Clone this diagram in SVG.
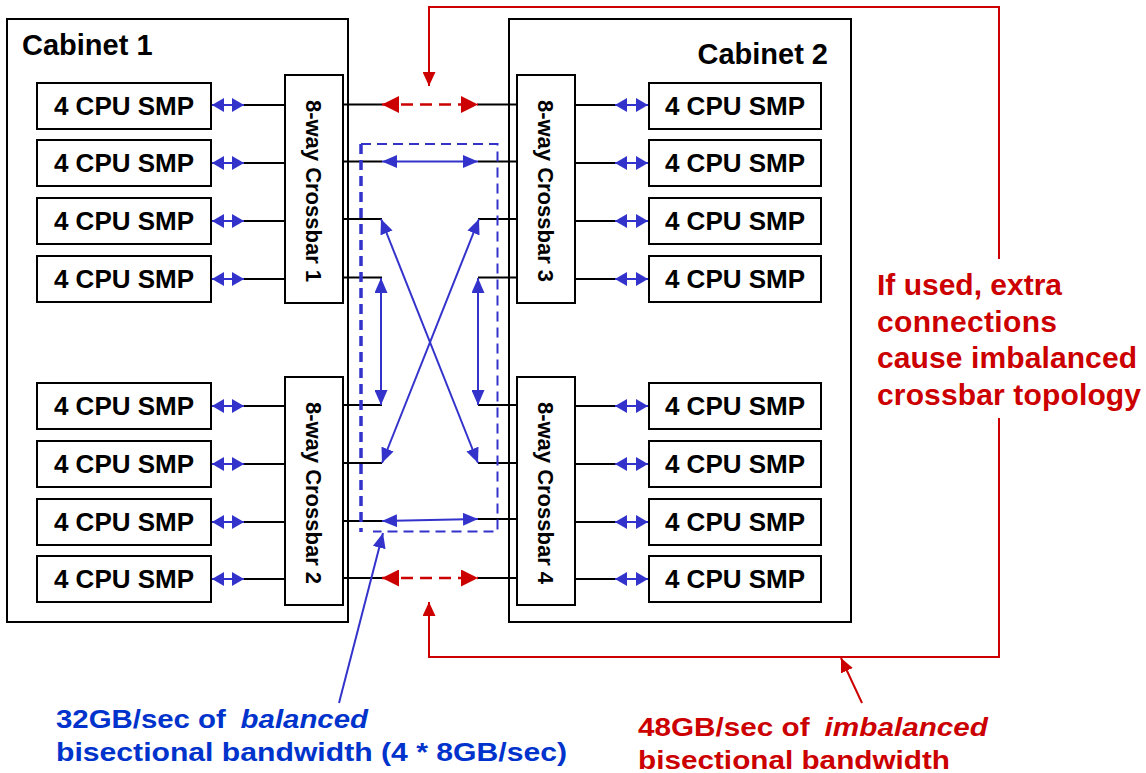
<svg xmlns="http://www.w3.org/2000/svg" width="1146" height="773" viewBox="0 0 1146 773">
  <style>
    text { font-family: "Liberation Sans", Arial, sans-serif; font-weight: bold; }
    .box { fill: #fff; stroke: #000; stroke-width: 2; }
    .cab { fill: none; stroke: #000; stroke-width: 2; }
    .cpu { font-size: 26px; text-anchor: middle; fill: #000; }
    .xbar { font-size: 22px; text-anchor: middle; fill: #000; }
    .cabt { font-size: 29px; fill: #000; }
    .wire { stroke: #000; stroke-width: 2; fill: none; }
    .blu { stroke: #3333cc; stroke-width: 2; fill: none; }
    .red { stroke: #cc0000; stroke-width: 2; fill: none; }
    .reddash { stroke: #cc0000; stroke-width: 2.5; fill: none; stroke-dasharray: 12 7; }
    .bisect { stroke: #3333cc; fill: none; stroke-dasharray: 10 6; }
    .note-red { fill: #cc0000; font-size: 30px; }
    .lbl-red { fill: #cc0000; font-size: 26.5px; }
    .lbl-blue { fill: #0033cc; font-size: 26.5px; }
  </style>
  <defs>
    <marker id="hs" viewBox="0 0 12 14" refX="12" refY="7" markerWidth="12" markerHeight="14" markerUnits="userSpaceOnUse" orient="auto-start-reverse">
      <path d="M0,0 L12,7 L0,14 z" fill="#3333cc"/>
    </marker>
    <marker id="hb" viewBox="0 0 15 13" refX="15" refY="6.5" markerWidth="15" markerHeight="13" markerUnits="userSpaceOnUse" orient="auto-start-reverse">
      <path d="M0,0 L15,6.5 L0,13 z" fill="#3333cc"/>
    </marker>
    <marker id="hr" viewBox="0 0 17 17" refX="17" refY="8.5" markerWidth="17" markerHeight="17" markerUnits="userSpaceOnUse" orient="auto-start-reverse">
      <path d="M0,0 L17,8.5 L0,17 z" fill="#cc0000"/>
    </marker>
    <marker id="hr2" viewBox="0 0 14 13" refX="14" refY="6.5" markerWidth="14" markerHeight="13" markerUnits="userSpaceOnUse" orient="auto">
      <path d="M0,0 L14,6.5 L0,13 z" fill="#cc0000"/>
    </marker>
  </defs>

  <rect width="1146" height="773" fill="#fff"/>

  <!-- cabinets -->
  <g id="cabinet1">
    <rect class="cab" x="7" y="19" width="341" height="603"/>
    <text class="cabt" x="22" y="55">Cabinet 1</text>
  </g>
  <g id="cabinet2">
    <rect class="cab" x="509" y="19" width="342" height="603"/>
    <text class="cabt" x="828" y="64" text-anchor="end">Cabinet 2</text>
  </g>

  <!-- connectors -->
  <g id="connectors">
    <!-- CPU to crossbar, left side -->
    <g>
      <path class="wire" d="M244,105 H285 M244,163 H285 M244,221 H285 M244,279 H285 M244,406 H285 M244,464 H285 M244,522 H285 M244,579 H285"/>
      <line class="blu" x1="212" y1="105" x2="244" y2="105" marker-start="url(#hs)" marker-end="url(#hs)"/>
      <line class="blu" x1="212" y1="163" x2="244" y2="163" marker-start="url(#hs)" marker-end="url(#hs)"/>
      <line class="blu" x1="212" y1="221" x2="244" y2="221" marker-start="url(#hs)" marker-end="url(#hs)"/>
      <line class="blu" x1="212" y1="279" x2="244" y2="279" marker-start="url(#hs)" marker-end="url(#hs)"/>
      <line class="blu" x1="212" y1="406" x2="244" y2="406" marker-start="url(#hs)" marker-end="url(#hs)"/>
      <line class="blu" x1="212" y1="464" x2="244" y2="464" marker-start="url(#hs)" marker-end="url(#hs)"/>
      <line class="blu" x1="212" y1="522" x2="244" y2="522" marker-start="url(#hs)" marker-end="url(#hs)"/>
      <line class="blu" x1="212" y1="579" x2="244" y2="579" marker-start="url(#hs)" marker-end="url(#hs)"/>
    </g>
    <!-- crossbar to CPU, right side -->
    <g>
      <path class="wire" d="M575,105 H615 M575,163 H615 M575,221 H615 M575,279 H615 M575,406 H615 M575,464 H615 M575,522 H615 M575,579 H615"/>
      <line class="blu" x1="615" y1="105" x2="648" y2="105" marker-start="url(#hs)" marker-end="url(#hs)"/>
      <line class="blu" x1="615" y1="163" x2="648" y2="163" marker-start="url(#hs)" marker-end="url(#hs)"/>
      <line class="blu" x1="615" y1="221" x2="648" y2="221" marker-start="url(#hs)" marker-end="url(#hs)"/>
      <line class="blu" x1="615" y1="279" x2="648" y2="279" marker-start="url(#hs)" marker-end="url(#hs)"/>
      <line class="blu" x1="615" y1="406" x2="648" y2="406" marker-start="url(#hs)" marker-end="url(#hs)"/>
      <line class="blu" x1="615" y1="464" x2="648" y2="464" marker-start="url(#hs)" marker-end="url(#hs)"/>
      <line class="blu" x1="615" y1="522" x2="648" y2="522" marker-start="url(#hs)" marker-end="url(#hs)"/>
      <line class="blu" x1="615" y1="579" x2="648" y2="579" marker-start="url(#hs)" marker-end="url(#hs)"/>
    </g>
    <!-- crossbar port stubs between cabinets -->
    <path class="wire" d="M343,104.5 H382 M343,161.5 H382 M343,219 H382 M343,277.5 H382 M343,405 H382 M343,463 H382 M343,521 H382 M343,578 H382"/>
    <path class="wire" d="M478,104.5 H517 M478,161.5 H517 M478,219 H517 M478,277.5 H517 M478,405 H517 M478,463 H517 M478,519 H517 M478,578 H517"/>

    <!-- balanced inter-cabinet links -->
    <line class="blu" x1="382" y1="161.5" x2="478" y2="161.5" marker-start="url(#hb)" marker-end="url(#hb)"/>
    <line class="blu" x1="382" y1="521" x2="478" y2="519" marker-start="url(#hb)" marker-end="url(#hb)"/>
    <line class="blu" x1="381" y1="219" x2="478" y2="463" marker-start="url(#hb)" marker-end="url(#hb)"/>
    <line class="blu" x1="479" y1="219" x2="382" y2="463" marker-start="url(#hb)" marker-end="url(#hb)"/>
    <line class="blu" x1="381" y1="278" x2="381" y2="405" marker-start="url(#hb)" marker-end="url(#hb)"/>
    <line class="blu" x1="478" y1="278" x2="478" y2="405" marker-start="url(#hb)" marker-end="url(#hb)"/>

    <!-- bisection boundary -->
    <path class="bisect" stroke-width="2" d="M361,144 H497.5 V531.5 H373"/>
    <line class="bisect" stroke-width="3.5" x1="361" y1="144" x2="361" y2="532"/>

    <!-- optional extra links -->
    <line class="reddash" x1="382" y1="104.5" x2="478" y2="104.5" marker-start="url(#hr)" marker-end="url(#hr)"/>
    <line class="reddash" x1="382" y1="578" x2="478" y2="578" marker-start="url(#hr)" marker-end="url(#hr)"/>

    <!-- callout routing -->
    <path class="red" d="M999,259 V7 H429 V86" marker-end="url(#hr2)"/>
    <path class="red" d="M999,418 V657 H429 V602" marker-end="url(#hr2)"/>
    <line class="red" x1="862" y1="703" x2="841" y2="658" marker-end="url(#hr2)"/>
    <line class="blu" x1="339" y1="703" x2="383" y2="533" marker-end="url(#hb)"/>
  </g>

  <!-- crossbars -->
  <g id="crossbar1">
    <rect class="box" x="285" y="75" width="58" height="228"/>
    <text class="xbar" x="314" y="199" transform="rotate(90 314 191)">8-way Crossbar 1</text>
  </g>
  <g id="crossbar2">
    <rect class="box" x="285" y="377" width="58" height="228"/>
    <text class="xbar" x="314" y="501" transform="rotate(90 314 493)">8-way Crossbar 2</text>
  </g>
  <g id="crossbar3">
    <rect class="box" x="517" y="75" width="58" height="228"/>
    <text class="xbar" x="546" y="199" transform="rotate(90 546 191)">8-way Crossbar 3</text>
  </g>
  <g id="crossbar4">
    <rect class="box" x="517" y="377" width="58" height="228"/>
    <text class="xbar" x="546" y="501" transform="rotate(90 546 493)">8-way Crossbar 4</text>
  </g>

  <!-- SMP nodes, cabinet 1 -->
  <g id="smp1-1"><rect class="box" x="37" y="83" width="174" height="46"/><text class="cpu" x="124" y="115">4 CPU SMP</text></g>
  <g id="smp1-2"><rect class="box" x="37" y="140" width="174" height="46"/><text class="cpu" x="124" y="172">4 CPU SMP</text></g>
  <g id="smp1-3"><rect class="box" x="37" y="198" width="174" height="46"/><text class="cpu" x="124" y="230">4 CPU SMP</text></g>
  <g id="smp1-4"><rect class="box" x="37" y="256" width="174" height="46"/><text class="cpu" x="124" y="288">4 CPU SMP</text></g>
  <g id="smp1-5"><rect class="box" x="37" y="383" width="174" height="46"/><text class="cpu" x="124" y="415">4 CPU SMP</text></g>
  <g id="smp1-6"><rect class="box" x="37" y="441" width="174" height="46"/><text class="cpu" x="124" y="473">4 CPU SMP</text></g>
  <g id="smp1-7"><rect class="box" x="37" y="499" width="174" height="46"/><text class="cpu" x="124" y="531">4 CPU SMP</text></g>
  <g id="smp1-8"><rect class="box" x="37" y="556" width="174" height="46"/><text class="cpu" x="124" y="588">4 CPU SMP</text></g>

  <!-- SMP nodes, cabinet 2 -->
  <g id="smp2-1"><rect class="box" x="649" y="83" width="172" height="46"/><text class="cpu" x="735" y="115">4 CPU SMP</text></g>
  <g id="smp2-2"><rect class="box" x="649" y="140" width="172" height="46"/><text class="cpu" x="735" y="172">4 CPU SMP</text></g>
  <g id="smp2-3"><rect class="box" x="649" y="198" width="172" height="46"/><text class="cpu" x="735" y="230">4 CPU SMP</text></g>
  <g id="smp2-4"><rect class="box" x="649" y="256" width="172" height="46"/><text class="cpu" x="735" y="288">4 CPU SMP</text></g>
  <g id="smp2-5"><rect class="box" x="649" y="383" width="172" height="46"/><text class="cpu" x="735" y="415">4 CPU SMP</text></g>
  <g id="smp2-6"><rect class="box" x="649" y="441" width="172" height="46"/><text class="cpu" x="735" y="473">4 CPU SMP</text></g>
  <g id="smp2-7"><rect class="box" x="649" y="499" width="172" height="46"/><text class="cpu" x="735" y="531">4 CPU SMP</text></g>
  <g id="smp2-8"><rect class="box" x="649" y="556" width="172" height="46"/><text class="cpu" x="735" y="588">4 CPU SMP</text></g>

  <!-- annotations -->
  <g id="note-extra">
    <text class="note-red" x="877" y="295" textLength="185" lengthAdjust="spacing">If used, extra</text>
    <text class="note-red" x="877" y="331.5" textLength="180" lengthAdjust="spacing">connections</text>
    <text class="note-red" x="877" y="368" textLength="260" lengthAdjust="spacing">cause imbalanced</text>
    <text class="note-red" x="877" y="404.5" textLength="264" lengthAdjust="spacing">crossbar topology</text>
  </g>
  <g id="label-balanced">
    <text class="lbl-blue" x="56" y="728" textLength="312" lengthAdjust="spacingAndGlyphs">32GB/sec of <tspan font-style="italic" dx="6">balanced</tspan></text>
    <text class="lbl-blue" x="56" y="761" textLength="511" lengthAdjust="spacingAndGlyphs">bisectional bandwidth (4 * 8GB/sec)</text>
  </g>
  <g id="label-imbalanced">
    <text class="lbl-red" x="638" y="736" textLength="350" lengthAdjust="spacingAndGlyphs">48GB/sec of <tspan font-style="italic" dx="6">imbalanced</tspan></text>
    <text class="lbl-red" x="638" y="769" textLength="312" lengthAdjust="spacingAndGlyphs">bisectional bandwidth</text>
  </g>
</svg>
